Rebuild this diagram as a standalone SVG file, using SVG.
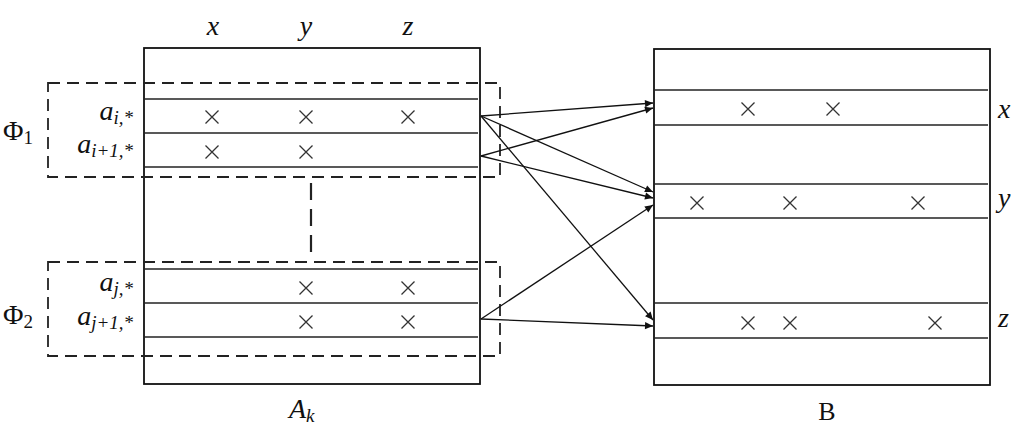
<svg xmlns="http://www.w3.org/2000/svg" width="1012" height="428" viewBox="0 0 1012 428">
<style>
.box{fill:none;stroke:#111;stroke-width:1.8}
.row{stroke:#222;stroke-width:1.7}
.dash{fill:none;stroke:#222;stroke-width:1.8;stroke-dasharray:12 7}
.cr{stroke:#333;stroke-width:1.3;fill:none}
.lbl{font-family:"Liberation Serif","DejaVu Serif",serif;font-size:28px;fill:#111}
.it{font-style:italic}
.sub{font-size:19px}
.con{stroke:#111;stroke-width:1.3;fill:none;marker-end:url(#ah)}
</style>
<defs>
<marker id="ah" viewBox="0 0 10 10" refX="10" refY="5" markerWidth="10" markerHeight="8" markerUnits="userSpaceOnUse" orient="auto">
<path d="M0,0.5 L10,5 L0,9.5 z" fill="#111"/>
</marker>
<path id="x" d="M-6.5,-6.5 L6.5,6.5 M-6.5,6.5 L6.5,-6.5"/>
</defs>
<rect width="1012" height="428" fill="#fff"/>

<g id="matrix-Ak">
<rect class="box" x="144" y="48" width="336" height="336"/>
<line class="row" x1="144" y1="99" x2="478" y2="99"/>
<line class="row" x1="144" y1="133" x2="478" y2="133"/>
<line class="row" x1="144" y1="167" x2="478" y2="167"/>
<line class="row" x1="144" y1="269" x2="478" y2="269"/>
<line class="row" x1="144" y1="303" x2="478" y2="303"/>
<line class="row" x1="144" y1="337" x2="478" y2="337"/>
<g class="cr">
<use href="#x" x="212" y="117"/><use href="#x" x="306" y="117"/><use href="#x" x="408" y="117"/>
<use href="#x" x="212" y="152"/><use href="#x" x="306" y="152"/>
<use href="#x" x="306" y="288"/><use href="#x" x="408" y="288"/>
<use href="#x" x="306" y="322"/><use href="#x" x="408" y="322"/>
</g>
<text class="lbl it" x="213" y="35" text-anchor="middle">x</text>
<text class="lbl it" x="306" y="35" text-anchor="middle">y</text>
<text class="lbl it" x="408" y="35" text-anchor="middle">z</text>
<text class="lbl it" x="133" y="120" text-anchor="end">a<tspan class="sub" dy="4">i,*</tspan></text>
<text class="lbl it" x="133" y="153" text-anchor="end">a<tspan class="sub" dy="4">i+1,*</tspan></text>
<text class="lbl it" x="133" y="291" text-anchor="end">a<tspan class="sub" dy="4">j,*</tspan></text>
<text class="lbl it" x="133" y="325" text-anchor="end">a<tspan class="sub" dy="4">j+1,*</tspan></text>
<text class="lbl it" x="289" y="418">A<tspan class="sub" dy="4">k</tspan></text>
</g>

<g id="phi1">
<rect class="dash" x="48" y="83" width="452" height="94"/>
<text class="lbl" x="3" y="140">Φ<tspan class="sub" dy="4">1</tspan></text>
</g>
<g id="phi2">
<rect class="dash" x="48" y="262" width="452" height="94"/>
<text class="lbl" x="3" y="324">Φ<tspan class="sub" dy="4">2</tspan></text>
</g>
<line x1="311" y1="183" x2="311" y2="252" stroke="#222" stroke-width="2.2" stroke-dasharray="17 9"/>

<g id="matrix-B">
<rect class="box" x="654" y="49" width="336" height="336"/>
<line class="row" x1="654" y1="90" x2="988" y2="90"/>
<line class="row" x1="654" y1="125" x2="988" y2="125"/>
<line class="row" x1="654" y1="184" x2="988" y2="184"/>
<line class="row" x1="654" y1="218" x2="988" y2="218"/>
<line class="row" x1="654" y1="303" x2="988" y2="303"/>
<line class="row" x1="654" y1="338" x2="988" y2="338"/>
<g class="cr">
<use href="#x" x="748" y="109"/><use href="#x" x="833" y="109"/>
<use href="#x" x="697" y="203"/><use href="#x" x="790" y="203"/><use href="#x" x="918" y="203"/>
<use href="#x" x="748" y="323"/><use href="#x" x="790" y="323"/><use href="#x" x="935" y="323"/>
</g>
<text class="lbl it" x="998" y="118">x</text>
<text class="lbl it" x="998" y="207">y</text>
<text class="lbl it" x="998" y="327">z</text>
<text class="lbl" x="827" y="420" text-anchor="middle" style="font-size:26px">B</text>
</g>

<g id="connectors">
<line class="con" x1="481" y1="116" x2="653" y2="103"/>
<line class="con" x1="481" y1="116" x2="653" y2="192"/>
<line class="con" x1="481" y1="116" x2="653" y2="320"/>
<line class="con" x1="481" y1="156" x2="653" y2="108"/>
<line class="con" x1="481" y1="156" x2="653" y2="198"/>
<line class="con" x1="481" y1="319" x2="653" y2="205"/>
<line class="con" x1="481" y1="319" x2="653" y2="326"/>
</g>
</svg>
